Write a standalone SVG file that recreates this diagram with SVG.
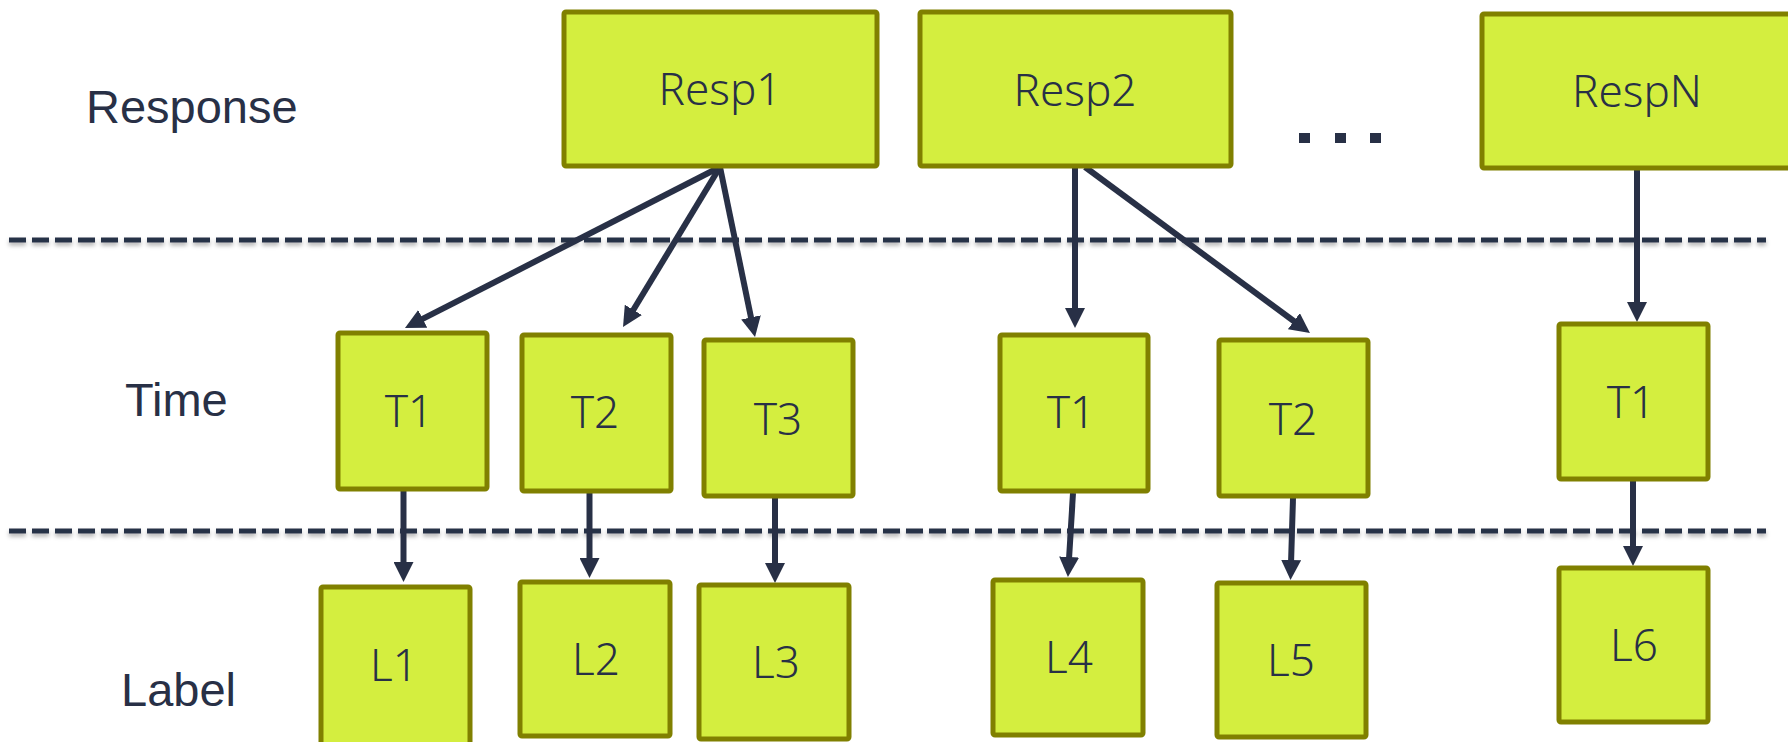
<svg xmlns="http://www.w3.org/2000/svg" width="1788" height="742" viewBox="0 0 1788 742">
<style>
.box{fill:#d4ee3f;stroke:#808000;stroke-width:5}
.nt{font-family:"Noto Sans","DejaVu Sans",sans-serif;font-weight:300;font-size:44px;fill:#283046;text-anchor:middle}
.lt{font-family:"Liberation Sans",Arial,sans-serif;font-size:47px;fill:#283046}
.dash{stroke:#283046;stroke-width:5;stroke-dasharray:17 6;fill:none}
.arr{stroke:#283046;stroke-width:6;fill:none;marker-end:url(#ah)}
</style>
<defs>
<marker id="ah" markerUnits="userSpaceOnUse" markerWidth="20" markerHeight="20" refX="4" refY="10" orient="auto">
<path d="M0,0 L20,10 L0,20 z" fill="#283046"/>
</marker>
<filter id="sh" x="-5%" y="-200%" width="110%" height="500%">
<feDropShadow dx="0" dy="3" stdDeviation="2" flood-color="#000" flood-opacity="0.3"/>
</filter>
</defs>
<rect width="1788" height="742" fill="#fff"/>
<g id="separators" filter="url(#sh)">
<line class="dash" x1="9" y1="240" x2="1766" y2="240"/>
<line class="dash" x1="9" y1="531" x2="1766" y2="531"/>
</g>
<g id="row-labels">
<text class="lt" x="86" y="123">Response</text>
<text class="lt" x="125" y="416">Time</text>
<text class="lt" x="121" y="706">Label</text>
</g>
<g id="ellipsis" fill="#283046">
<rect x="1299" y="133" width="11" height="10"/>
<rect x="1335" y="133" width="11" height="10"/>
<rect x="1370" y="133" width="11" height="10"/>
</g>
<g id="connectors">
<line class="arr" x1="720" y1="167" x2="419.2" y2="320.7"/>
<line class="arr" x1="720" y1="167" x2="631.3" y2="313.3"/>
<line class="arr" x1="720" y1="167" x2="751.8" y2="321.3"/>
<line class="arr" x1="1075" y1="168" x2="1075" y2="312"/>
<line class="arr" x1="1085" y1="167" x2="1297.1" y2="323.5"/>
<line class="arr" x1="1637" y1="170" x2="1637" y2="306"/>
<line class="arr" x1="403.5" y1="491" x2="403.5" y2="566"/>
<line class="arr" x1="589.5" y1="493" x2="589.5" y2="562"/>
<line class="arr" x1="775" y1="498" x2="775" y2="567"/>
<line class="arr" x1="1073" y1="493" x2="1068.9" y2="561"/>
<line class="arr" x1="1293" y1="498" x2="1291" y2="564"/>
<line class="arr" x1="1633" y1="481" x2="1633" y2="550"/>
</g>
<g id="resp1"><rect class="box" x="564" y="12" width="313" height="154" rx="2"/><text class="nt" x="720" y="105">Resp1</text></g>
<g id="resp2"><rect class="box" x="920" y="12" width="311" height="154" rx="2"/><text class="nt" x="1075" y="106">Resp2</text></g>
<g id="respN"><rect class="box" x="1482" y="14" width="320" height="154" rx="2"/><text class="nt" x="1637" y="107">RespN</text></g>
<g id="t1a"><rect class="box" x="338" y="333" width="149" height="156" rx="2"/><text class="nt" x="409" y="427">T1</text></g>
<g id="t2a"><rect class="box" x="522" y="335" width="149" height="156" rx="2"/><text class="nt" x="595" y="428">T2</text></g>
<g id="t3a"><rect class="box" x="704" y="340" width="149" height="156" rx="2"/><text class="nt" x="778" y="435">T3</text></g>
<g id="t1b"><rect class="box" x="1000" y="335" width="148" height="156" rx="2"/><text class="nt" x="1071" y="428">T1</text></g>
<g id="t2b"><rect class="box" x="1219" y="340" width="149" height="156" rx="2"/><text class="nt" x="1293" y="435">T2</text></g>
<g id="t1c"><rect class="box" x="1559" y="324" width="149" height="155" rx="2"/><text class="nt" x="1631" y="418">T1</text></g>
<g id="l1"><rect class="box" x="321" y="587" width="149" height="165" rx="2"/><text class="nt" x="394" y="681">L1</text></g>
<g id="l2"><rect class="box" x="520" y="582" width="150" height="154" rx="2"/><text class="nt" x="596" y="675">L2</text></g>
<g id="l3"><rect class="box" x="699" y="585" width="150" height="154" rx="2"/><text class="nt" x="776" y="678">L3</text></g>
<g id="l4"><rect class="box" x="993" y="580" width="150" height="155" rx="2"/><text class="nt" x="1069" y="673">L4</text></g>
<g id="l5"><rect class="box" x="1217" y="583" width="149" height="154" rx="2"/><text class="nt" x="1291" y="676">L5</text></g>
<g id="l6"><rect class="box" x="1559" y="568" width="149" height="154" rx="2"/><text class="nt" x="1634" y="661">L6</text></g>
</svg>
